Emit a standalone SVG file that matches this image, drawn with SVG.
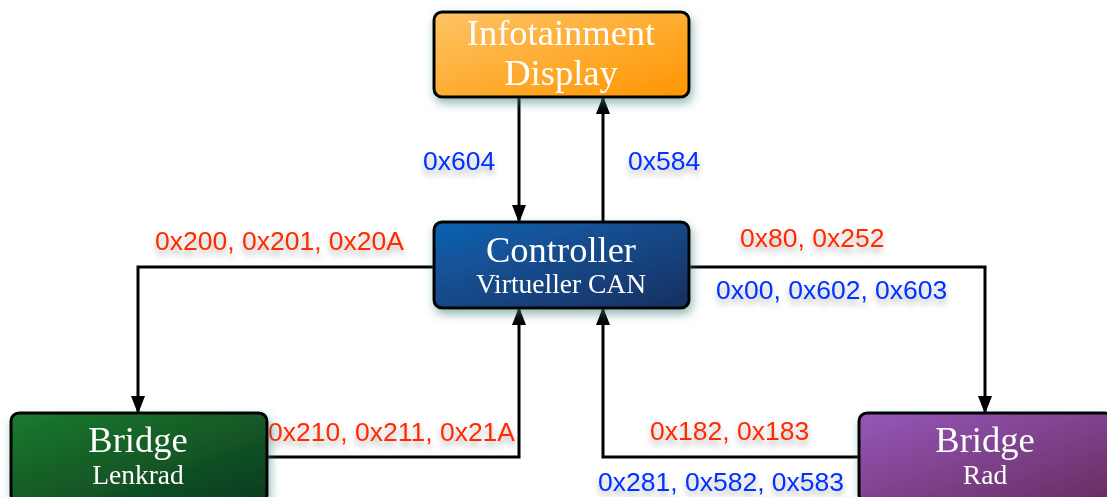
<svg xmlns="http://www.w3.org/2000/svg" width="1107" height="497" viewBox="0 0 1107 497">
  <defs>
    <linearGradient id="gOrange" x1="0" y1="0" x2="1" y2="1">
      <stop offset="0" stop-color="#fdc466"/>
      <stop offset="1" stop-color="#ff9500"/>
    </linearGradient>
    <linearGradient id="gBlue" x1="0" y1="0" x2="1" y2="1">
      <stop offset="0" stop-color="#1062b2"/>
      <stop offset="1" stop-color="#172f5e"/>
    </linearGradient>
    <linearGradient id="gGreen" x1="0" y1="0" x2="1" y2="1">
      <stop offset="0" stop-color="#1b7b2e"/>
      <stop offset="1" stop-color="#0c3a1e"/>
    </linearGradient>
    <linearGradient id="gPurple" x1="0" y1="0" x2="1" y2="1">
      <stop offset="0" stop-color="#9558b9"/>
      <stop offset="1" stop-color="#682c60"/>
    </linearGradient>
    <filter id="boxShadow" x="-20%" y="-30%" width="140%" height="170%">
      <feGaussianBlur in="SourceAlpha" stdDeviation="5"/>
      <feOffset dx="2" dy="5" result="b"/>
      <feFlood flood-color="#3f7f7a" flood-opacity="0.55"/>
      <feComposite in2="b" operator="in"/>
      <feMerge><feMergeNode/><feMergeNode in="SourceGraphic"/></feMerge>
    </filter>
    <filter id="textShadow" x="-10%" y="-40%" width="120%" height="200%">
      <feGaussianBlur in="SourceAlpha" stdDeviation="3"/>
      <feOffset dx="0" dy="5" result="b"/>
      <feFlood flood-color="#000" flood-opacity="0.3"/>
      <feComposite in2="b" operator="in"/>
      <feMerge><feMergeNode/><feMergeNode in="SourceGraphic"/></feMerge>
    </filter>
    <marker id="arrow" viewBox="0 0 18 14" refX="17" refY="7" markerWidth="18" markerHeight="14" markerUnits="userSpaceOnUse" orient="auto">
      <path d="M0,0 L18,7 L0,14 Z" fill="#000"/>
    </marker>
    <style>
      .box { stroke: #000; stroke-width: 3; }
      .title { font-family: "Liberation Serif", serif; font-size: 36.5px; fill: #fff; text-anchor: middle; }
      .sub { font-family: "Liberation Serif", serif; font-size: 27.5px; fill: #fff; text-anchor: middle; }
      .wire { fill: none; stroke: #000; stroke-width: 3; marker-end: url(#arrow); }
      .lbl { font-family: "Liberation Sans", Arial, sans-serif; font-size: 26.5px; filter: url(#textShadow); }
      .red { fill: #ff2a00; }
      .blue { fill: #0433ff; }
    </style>
  </defs>

  <!-- connectors -->
  <g id="connectors">
    <path class="wire" d="M519,97 L519,222"/>
    <path class="wire" d="M603,222 L603,97"/>
    <path class="wire" d="M434,267 L138,267 L138,413"/>
    <path class="wire" d="M266,457 L519,457 L519,308"/>
    <path class="wire" d="M690,267 L985,267 L985,413"/>
    <path class="wire" d="M859,457 L603,457 L603,308"/>
  </g>

  <!-- connector labels -->
  <g id="labels">
    <text class="lbl blue" x="423" y="170">0x604</text>
    <text class="lbl blue" x="628" y="170">0x584</text>
    <text class="lbl red" x="155" y="250">0x200, 0x201, 0x20A</text>
    <text class="lbl red" x="740" y="247">0x80, 0x252</text>
    <text class="lbl blue" x="716" y="299">0x00, 0x602, 0x603</text>
    <text class="lbl red" x="268" y="441">0x210, 0x211, 0x21A</text>
    <text class="lbl red" x="650" y="440">0x182, 0x183</text>
    <text class="lbl blue" x="598" y="491">0x281, 0x582, 0x583</text>
  </g>

  <g id="infotainment" filter="url(#boxShadow)">
    <rect class="box" x="434" y="12" width="255" height="85" rx="8" fill="url(#gOrange)"/>
    <text class="title" x="561" y="45">Infotainment</text>
    <text class="title" x="561" y="85">Display</text>
  </g>

  <g id="controller" filter="url(#boxShadow)">
    <rect class="box" x="434" y="222" width="255" height="86" rx="8" fill="url(#gBlue)"/>
    <text class="title" x="561" y="262">Controller</text>
    <text class="sub" x="561" y="293">Virtueller CAN</text>
  </g>

  <g id="bridge-lenkrad" filter="url(#boxShadow)">
    <rect class="box" x="11" y="413" width="256" height="90" rx="8" fill="url(#gGreen)"/>
    <text class="title" x="138" y="452">Bridge</text>
    <text class="sub" x="138" y="484">Lenkrad</text>
  </g>

  <g id="bridge-rad" filter="url(#boxShadow)">
    <rect class="box" x="859" y="413" width="254" height="90" rx="8" fill="url(#gPurple)"/>
    <text class="title" x="985" y="452">Bridge</text>
    <text class="sub" x="985" y="484">Rad</text>
  </g>
</svg>
